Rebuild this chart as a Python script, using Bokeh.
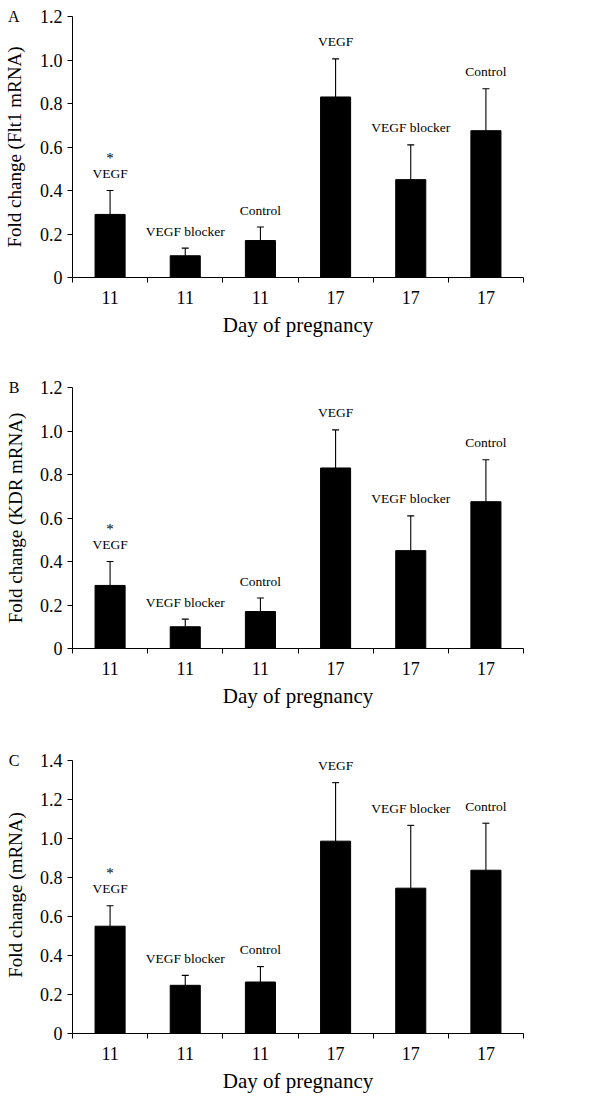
from bokeh.plotting import figure
from bokeh.models import (ColumnDataSource, FixedTicker, CustomJSTickFormatter,
                          LabelSet, Range1d, LinearAxis)
from bokeh.layouts import column
from bokeh.embed import file_html
from bokeh.resources import INLINE
from bokeh.core.properties import value

# ---- data ----
groups = ["VEGF", "VEGF blocker", "Control", "VEGF", "VEGF blocker", "Control"]
days = ["11", "11", "11", "17", "17", "17"]
stars = ["*", "", "", "", "", ""]

flt1_mean = [0.29, 0.10, 0.17, 0.83, 0.45, 0.675]
flt1_err = [0.11, 0.035, 0.062, 0.175, 0.16, 0.193]

kdr_mean = [0.29, 0.10, 0.17, 0.83, 0.45, 0.675]
kdr_err = [0.11, 0.035, 0.062, 0.175, 0.16, 0.193]

mrna_mean = [0.55, 0.247, 0.264, 0.986, 0.745, 0.837]
mrna_err = [0.105, 0.051, 0.079, 0.30, 0.322, 0.241]

ticks_12 = [0, 0.2, 0.4, 0.6, 0.8, 1.0, 1.2]
ticks_14 = [0, 0.2, 0.4, 0.6, 0.8, 1.0, 1.2, 1.4]

FONT = "Liberation Serif"


def panel(letter, ylabel, mean, err, yticks, ytop, height, top, bottom, xl_standoff):
    n = len(mean)
    xs = [i + 0.5 for i in range(n)]
    tops = [m + e for m, e in zip(mean, err)]
    src = ColumnDataSource(dict(x=xs, mean=mean, top=tops, group=groups, star=stars))
    ymax = yticks[-1]
    p = figure(width=612, height=height, x_range=Range1d(0, n), y_range=Range1d(0, ytop),
               output_backend="svg", toolbar_location=None,
               min_border_left=66, min_border_right=89,
               min_border_top=top, min_border_bottom=bottom)
    p.outline_line_color = None
    p.grid.visible = False
    p.background_fill_color = "white"
    p.border_fill_color = "white"

    p.vbar(x="x", top="mean", bottom=0, width=0.4, source=src,
           fill_color="black", line_color="black")
    p.segment(x0="x", y0="mean", x1="x", y1="top", source=src,
              line_color="black", line_width=1.1)
    p.scatter(x="x", y="top", marker="dash", size=7, source=src,
              line_color="black", line_width=1.1)

    p.add_layout(LabelSet(x="x", y="top", text="group", source=src, y_offset=17,
                          text_align="center", text_baseline="middle",
                          text_font=value(FONT), text_font_size=value("13.5px"),
                          text_color="black"))
    p.add_layout(LabelSet(x="x", y="top", text="star", source=src, y_offset=33,
                          text_align="center", text_baseline="middle",
                          text_font=value(FONT), text_font_size=value("15px"),
                          text_color="black"))

    # x axis
    xa = p.xaxis[0]
    xa.ticker = FixedTicker(ticks=xs, minor_ticks=list(range(n + 1)))
    xa.formatter = CustomJSTickFormatter(args=dict(days=days),
                                         code="return days[Math.floor(tick)];")
    xa.major_tick_in = 0
    xa.major_tick_out = 0
    xa.major_tick_line_color = None
    xa.minor_tick_in = 0
    xa.minor_tick_out = 5
    xa.minor_tick_line_color = "black"
    xa.axis_line_color = "black"
    xa.major_label_standoff = 8
    xa.major_label_text_font = FONT
    xa.major_label_text_font_size = "18px"
    xa.major_label_text_color = "black"
    xa.axis_label = "Day of pregnancy"
    xa.axis_label_text_font = FONT
    xa.axis_label_text_font_size = "21px"
    xa.axis_label_text_font_style = "normal"
    xa.axis_label_text_color = "black"
    xa.axis_label_standoff = xl_standoff

    # y axis (numbers)
    ya = p.yaxis[0]
    ya.bounds = (0, ymax)
    ya.ticker = FixedTicker(ticks=yticks)
    ya.formatter = CustomJSTickFormatter(code="return tick == 0 ? '0' : tick.toFixed(1);")
    ya.major_tick_in = 0
    ya.major_tick_out = 5
    ya.major_tick_line_color = "black"
    ya.minor_tick_line_color = None
    ya.axis_line_color = "black"
    ya.major_label_standoff = 5
    ya.major_label_text_font = FONT
    ya.major_label_text_font_size = "18px"
    ya.major_label_text_color = "black"

    # outer left axis: panel letter at the top tick and the axis title
    oa = LinearAxis(ticker=FixedTicker(ticks=[ymax]),
                    formatter=CustomJSTickFormatter(args=dict(letter=letter),
                                                    code="return letter;"))
    oa.axis_line_color = None
    oa.major_tick_line_color = None
    oa.minor_tick_line_color = None
    oa.major_tick_in = 0
    oa.major_tick_out = 0
    oa.major_label_standoff = 17
    oa.major_label_text_font = FONT
    oa.major_label_text_font_size = "16px"
    oa.major_label_text_color = "black"
    oa.axis_label = ylabel
    oa.axis_label_text_font = FONT
    oa.axis_label_text_font_size = "19px"
    oa.axis_label_text_font_style = "normal"
    oa.axis_label_text_color = "black"
    oa.axis_label_standoff = -20
    p.add_layout(oa, "left")
    return p


pA = panel("A", "Fold change (Flt1 mRNA)", flt1_mean, flt1_err, ticks_12, 1.2, 347, 16, 70, 6)
pB = panel("B", "Fold change (KDR mRNA)", kdr_mean, kdr_err, ticks_12, 1.2, 371, 40, 70, 6)
pC = panel("C", "Fold change (mRNA)", mrna_mean, mrna_err, ticks_14, 1.42, 379, 38, 64, 6)

layout = column(pA, pB, pC, spacing=0)
open("out.html", "w").write(file_html(layout, INLINE))
